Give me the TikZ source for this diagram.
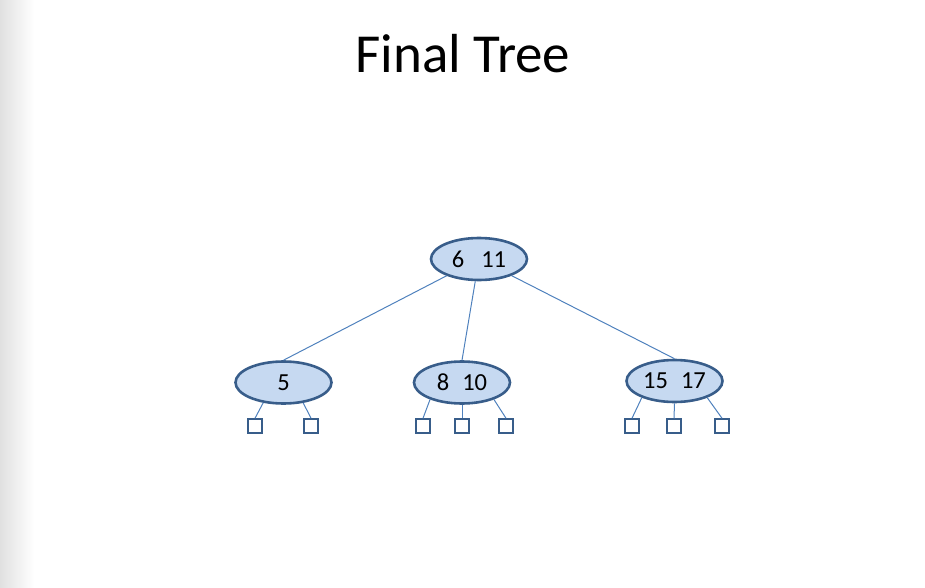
\documentclass[tikz,border=0pt]{standalone}
\usepackage{fontspec}
\setmainfont{Carlito}
\usetikzlibrary{shapes.geometric}
\definecolor{edgeblue}{HTML}{4F81BD}
\definecolor{nodeborder}{HTML}{385D8A}
\definecolor{nodefill}{HTML}{C6D9F1}
\begin{document}
\begin{tikzpicture}[x=1pt,y=-1pt,
  keynode/.style={ellipse,draw=nodeborder,fill=nodefill,line width=2.6pt,
    minimum width=96pt,minimum height=42pt,inner sep=0pt,
    font=\fontsize{24.5}{26}\selectfont},
  leafbox/.style={rectangle,draw=nodeborder,fill=white,line width=2pt,
    minimum size=13.5pt,inner sep=0pt},
  link/.style={draw=edgeblue,line width=1pt}]
\useasboundingbox (0,0) rectangle (925,588);
\shade[left color=black!12,right color=white] (0,0) rectangle (34,588);
\node[font=\fontsize{55}{60}\selectfont,anchor=base] (title) at (463,73) {Final Tree};
\node[keynode] (root) at (479,259) {6\hspace{17pt}11};
\node[keynode] (n1) at (283.5,382.5) {5};
\node[keynode] (n2) at (462,382.5) {8\hspace{13pt}10};
\node[keynode] (n3) at (674.5,381) {15\hspace{13pt}17};
\node[leafbox] (s1) at (255,426) {};
\node[leafbox] (s2) at (311,426) {};
\node[leafbox] (s3) at (423,426) {};
\node[leafbox] (s4) at (462,426) {};
\node[leafbox] (s5) at (506,426) {};
\node[leafbox] (s6) at (632,426) {};
\node[leafbox] (s7) at (674,426) {};
\node[leafbox] (s8) at (722,426) {};
\path[link] (root) -- (n1.north);
\path[link] (root) -- (n2.north);
\path[link] (root) -- (n3.north);
\path[link] (n1.225) -- (s1.north);
\path[link] (n1.314) -- (s2.north);
\path[link] (n2.208) -- (s3.north);
\path[link] (n2.south) -- (s4.north);
\path[link] (n2.332) -- (s5.north);
\path[link] (n3.207) -- (s6.north);
\path[link] (n3.south) -- (s7.north);
\path[link] (n3.333) -- (s8.north);
\end{tikzpicture}
\end{document}
